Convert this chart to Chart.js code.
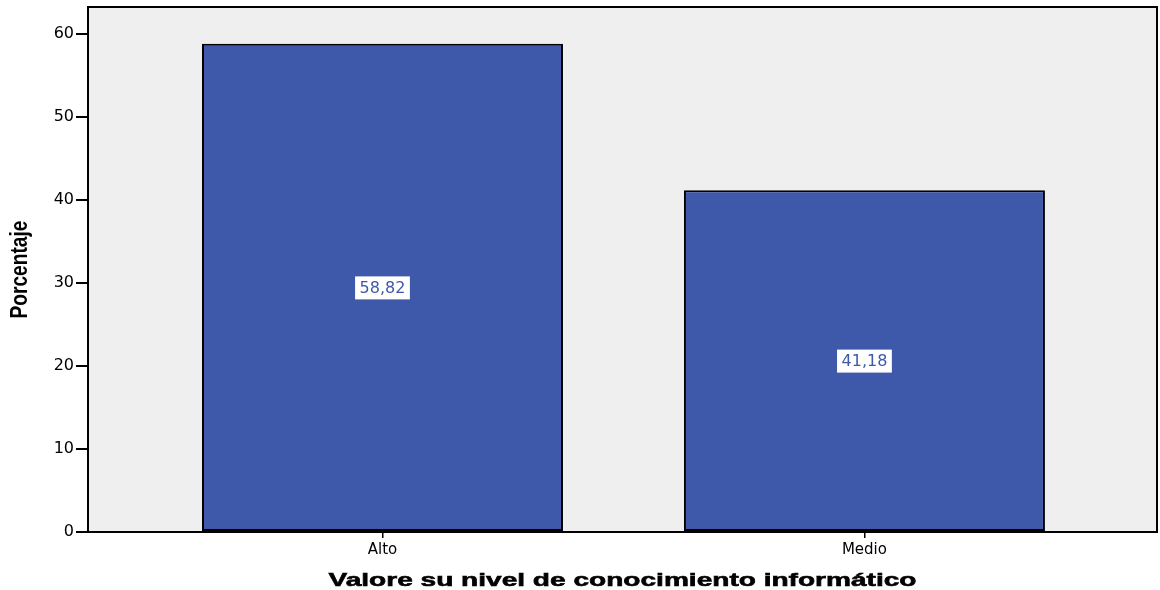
<!DOCTYPE html>
<html>
<head>
<meta charset="utf-8">
<script src="https://cdn.jsdelivr.net/npm/chart.js@4"></script>
<style>
  html, body { margin: 0; padding: 0; background: #fff; }
  #wrap { width: 1160px; height: 590px; }
</style>
</head>
<body>
<div id="wrap"><canvas id="chart"></canvas></div>
<script>
  // Data
  const categories = ['Alto', 'Medio'];
  const positions = [1, 2];
  const percentages = [58.82, 41.18];
  const valueLabels = ['58,82', '41,18'];
  const yTicks = [0, 10, 20, 30, 40, 50, 60];
  const xTitle = 'Valore su nivel de conocimiento informático';
  const yTitle = 'Porcentaje';

  const BAR_COLOR = '#3e58aa';
  const PLOT_BG = '#efefef';
  const FONT = '"DejaVu Sans", "Liberation Sans", Arial, sans-serif';

  // draw text stretched/squeezed to a given width
  function fitText(ctx, txt, width, stroke) {
    const w = ctx.measureText(txt).width;
    ctx.scale(width / w, 1);
    ctx.fillText(txt, 0, 0);
    if (stroke) {
      ctx.lineWidth = stroke;
      ctx.strokeStyle = ctx.fillStyle;
      ctx.strokeText(txt, 0, 0);
    }
  }

  // plot background + frame + value boxes + axis titles
  const spssLook = {
    id: 'spssLook',
    beforeDraw(chart) {
      const { ctx, chartArea: a } = chart;
      ctx.save();
      ctx.fillStyle = PLOT_BG;
      ctx.fillRect(a.left, a.top, a.right - a.left, a.bottom - a.top);
      ctx.restore();
    },
    afterDatasetsDraw(chart) {
      const { ctx, chartArea: a } = chart;
      ctx.save();
      ctx.strokeStyle = '#000';
      ctx.lineWidth = 2;
      ctx.strokeRect(a.left, a.top, a.right - a.left, a.bottom - a.top);

      const meta = chart.getDatasetMeta(0);
      ctx.font = '16px ' + FONT;
      ctx.textAlign = 'center';
      ctx.textBaseline = 'middle';
      meta.data.forEach((bar, i) => {
        const yMid = chart.scales.y.getPixelForValue(percentages[i] / 2);
        const txt = valueLabels[i];
        const w = ctx.measureText(txt).width + 9;
        const h = 23;
        ctx.fillStyle = '#fff';
        ctx.fillRect(bar.x - w / 2, yMid - h / 2, w, h);
        ctx.fillStyle = BAR_COLOR;
        ctx.fillText(txt, bar.x, yMid + 1);
      });
      ctx.restore();
    },
    afterDraw(chart) {
      const { ctx, chartArea: a } = chart;
      ctx.save();
      ctx.fillStyle = '#000';
      ctx.textAlign = 'center';
      ctx.textBaseline = 'alphabetic';
      ctx.font = 'bold 19px "Liberation Sans", Arial, sans-serif';
      ctx.translate((a.left + a.right) / 2, 586);
      fitText(ctx, xTitle, 588, 0.6);
      ctx.restore();

      ctx.save();
      ctx.fillStyle = '#000';
      ctx.textAlign = 'center';
      ctx.textBaseline = 'alphabetic';
      ctx.font = 'bold 23px "Liberation Sans", Arial, sans-serif';
      ctx.translate(27, (a.top + a.bottom) / 2);
      ctx.rotate(-Math.PI / 2);
      fitText(ctx, yTitle, 98);
      ctx.restore();
    }
  };

  new Chart(document.getElementById('chart'), {
    type: 'bar',
    data: {
      datasets: [{
        data: positions.map((p, i) => ({ x: p, y: percentages[i] })),
        backgroundColor: BAR_COLOR,
        borderColor: '#000',
        borderWidth: 2,
        borderSkipped: false,
        barPercentage: 0.749,
        categoryPercentage: 1
      }]
    },
    options: {
      responsive: true,
      maintainAspectRatio: false,
      animation: false,
      layout: { padding: { top: 7, right: 3, left: 0, bottom: 0 } },
      plugins: { legend: { display: false }, tooltip: { enabled: false } },
      scales: {
        x: {
          type: 'linear',
          offset: false,
          min: 0.389,
          max: 2.607,
          afterBuildTicks: s => { s.ticks = positions.map(v => ({ value: v })); },
          afterFit: s => { s.height = 58; },
          ticks: {
            color: '#000',
            padding: 3,
            font: { family: FONT, size: 15 },
            callback: v => categories[positions.indexOf(v)] || ''
          },
          grid: { offset: false, drawOnChartArea: false, color: '#000', tickLength: 6, lineWidth: 1.5 },
          border: { color: '#000', width: 2 }
        },
        y: {
          min: 0,
          max: 63.25,
          afterBuildTicks: s => { s.ticks = yTicks.map(v => ({ value: v })); },
          afterFit: s => { s.width = 88; s.paddingTop = 0; s.paddingBottom = 0; },
          ticks: {
            color: '#000',
            padding: 2,
            font: { family: FONT, size: 16 }
          },
          grid: { drawOnChartArea: false, color: '#000', tickLength: 12, lineWidth: 2 },
          border: { color: '#000', width: 2 }
        }
      }
    },
    plugins: [spssLook]
  });
</script>
</body>
</html>
